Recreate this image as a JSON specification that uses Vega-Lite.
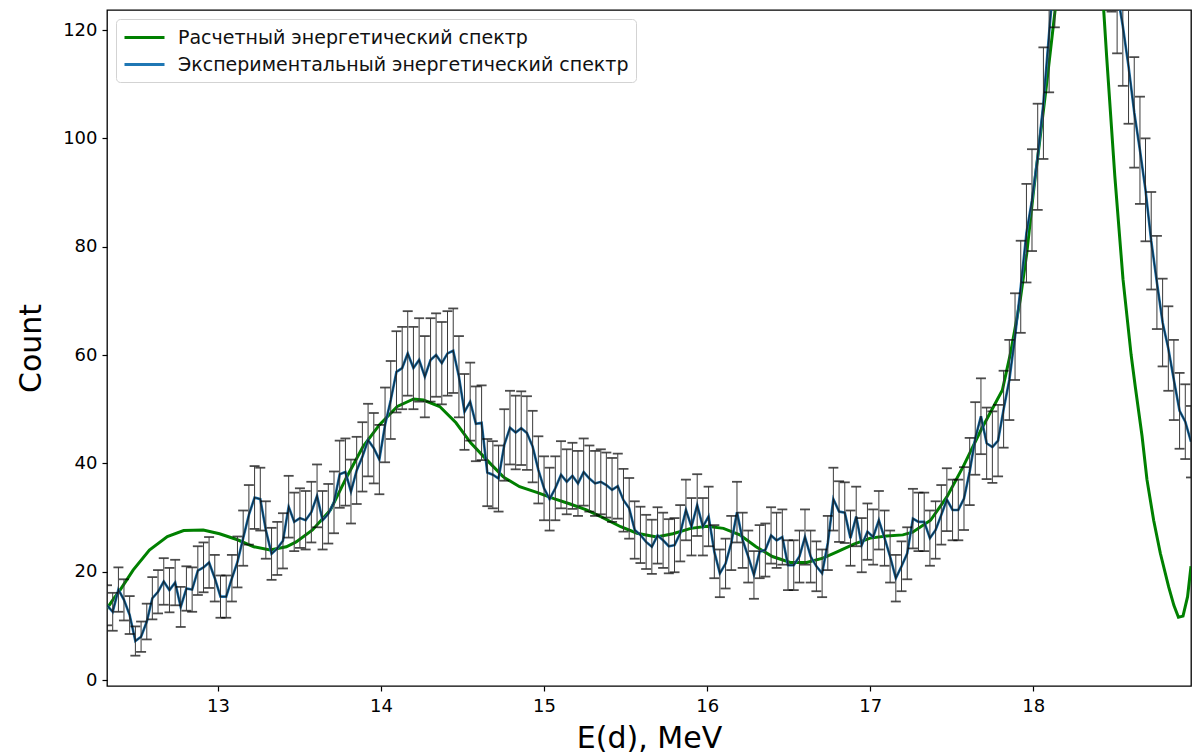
{
  "$schema": "https://vega.github.io/schema/vega-lite/v6.json",
  "width": 1084,
  "height": 676,
  "autosize": {"type": "none"},
  "padding": {"left": 107, "top": 10, "right": 2, "bottom": 70},
  "background": "white",
  "config": {
    "view": {"stroke": "black", "strokeWidth": 1.3},
    "font": "DejaVu Sans",
    "axis": {
      "labelFont": "DejaVu Sans", "labelFontSize": 18, "labelColor": "black",
      "titleFont": "DejaVu Sans", "titleFontSize": 30, "titleFontWeight": "normal", "titleColor": "black",
      "tickColor": "black", "tickSize": 5, "tickWidth": 1.2, "grid": false, "domain": false
    },
    "legend": {
      "orient": "top-left", "offset": 9, "padding": 7,
      "fillColor": "rgba(255,255,255,0.85)", "strokeColor": "#d3d3d3", "cornerRadius": 4,
      "labelFont": "DejaVu Sans", "labelFontSize": 19, "labelColor": "#111", "labelLimit": 800,
      "symbolType": "M-1,0L3,0", "symbolSize": 400, "symbolStrokeWidth": 3, "labelOffset": 32, "rowPadding": 5
    }
  },
  "datasets": {
    "exp": [
      {"e":12.320,"n":13.8,"err":3.7},{"e":12.355,"n":12.6,"err":3.5},{"e":12.390,"n":16.7,"err":4.1},{"e":12.424,"n":14.8,"err":3.8},
      {"e":12.459,"n":12.0,"err":3.5},{"e":12.494,"n":7.2,"err":2.7},{"e":12.529,"n":8.0,"err":2.8},{"e":12.564,"n":10.8,"err":3.3},
      {"e":12.598,"n":15.1,"err":3.9},{"e":12.633,"n":16.3,"err":4.0},{"e":12.668,"n":18.2,"err":4.3},{"e":12.703,"n":16.6,"err":4.1},
      {"e":12.738,"n":18.0,"err":4.2},{"e":12.772,"n":13.5,"err":3.7},{"e":12.807,"n":16.9,"err":4.1},{"e":12.842,"n":16.7,"err":4.1},
      {"e":12.877,"n":20.2,"err":4.5},{"e":12.912,"n":20.8,"err":4.6},{"e":12.946,"n":21.7,"err":4.7},{"e":12.981,"n":18.8,"err":4.3},
      {"e":13.016,"n":15.4,"err":3.9},{"e":13.051,"n":15.4,"err":3.9},{"e":13.086,"n":18.8,"err":4.3},{"e":13.120,"n":21.8,"err":4.7},
      {"e":13.155,"n":26.2,"err":5.1},{"e":13.190,"n":30.5,"err":5.5},{"e":13.225,"n":33.7,"err":5.8},{"e":13.260,"n":33.4,"err":5.8},
      {"e":13.294,"n":27.7,"err":5.3},{"e":13.329,"n":23.3,"err":4.8},{"e":13.364,"n":24.3,"err":4.9},{"e":13.399,"n":25.7,"err":5.1},
      {"e":13.434,"n":32.0,"err":5.7},{"e":13.468,"n":29.2,"err":5.4},{"e":13.503,"n":29.9,"err":5.5},{"e":13.538,"n":29.5,"err":5.4},
      {"e":13.573,"n":31.0,"err":5.6},{"e":13.608,"n":34.0,"err":5.8},{"e":13.642,"n":29.5,"err":5.4},{"e":13.677,"n":30.7,"err":5.5},
      {"e":13.712,"n":32.8,"err":5.7},{"e":13.747,"n":38.0,"err":6.2},{"e":13.782,"n":38.4,"err":6.2},{"e":13.816,"n":34.8,"err":5.9},
      {"e":13.851,"n":38.7,"err":6.2},{"e":13.886,"n":41.2,"err":6.4},{"e":13.921,"n":44.3,"err":6.7},{"e":13.956,"n":42.8,"err":6.5},
      {"e":13.990,"n":40.7,"err":6.4},{"e":14.025,"n":47.1,"err":6.9},{"e":14.060,"n":51.7,"err":7.2},{"e":14.095,"n":56.9,"err":7.5},
      {"e":14.130,"n":57.6,"err":7.6},{"e":14.164,"n":60.3,"err":7.8},{"e":14.199,"n":57.6,"err":7.6},{"e":14.234,"n":59.1,"err":7.7},
      {"e":14.269,"n":56.0,"err":7.5},{"e":14.304,"n":59.1,"err":7.7},{"e":14.338,"n":60.0,"err":7.7},{"e":14.373,"n":58.5,"err":7.6},
      {"e":14.408,"n":60.3,"err":7.8},{"e":14.443,"n":60.8,"err":7.8},{"e":14.478,"n":56.0,"err":7.5},{"e":14.512,"n":49.5,"err":7.0},
      {"e":14.547,"n":51.4,"err":7.2},{"e":14.582,"n":47.3,"err":6.9},{"e":14.617,"n":47.5,"err":6.9},{"e":14.652,"n":38.3,"err":6.2},
      {"e":14.686,"n":37.9,"err":6.2},{"e":14.721,"n":37.2,"err":6.1},{"e":14.756,"n":43.4,"err":6.6},{"e":14.791,"n":46.6,"err":6.8},
      {"e":14.826,"n":45.7,"err":6.8},{"e":14.860,"n":46.5,"err":6.8},{"e":14.895,"n":45.6,"err":6.8},{"e":14.930,"n":43.1,"err":6.6},
      {"e":14.965,"n":38.8,"err":6.2},{"e":15.000,"n":35.4,"err":5.9},{"e":15.034,"n":33.4,"err":5.8},{"e":15.069,"n":35.4,"err":5.9},
      {"e":15.104,"n":37.9,"err":6.2},{"e":15.139,"n":36.6,"err":6.0},{"e":15.174,"n":37.7,"err":6.1},{"e":15.208,"n":36.3,"err":6.0},
      {"e":15.243,"n":38.4,"err":6.2},{"e":15.278,"n":37.2,"err":6.1},{"e":15.313,"n":36.3,"err":6.0},{"e":15.348,"n":36.6,"err":6.0},
      {"e":15.382,"n":36.0,"err":6.0},{"e":15.417,"n":35.1,"err":5.9},{"e":15.452,"n":35.8,"err":6.0},{"e":15.487,"n":33.2,"err":5.8},
      {"e":15.522,"n":31.7,"err":5.6},{"e":15.556,"n":27.7,"err":5.3},{"e":15.591,"n":26.8,"err":5.2},{"e":15.626,"n":25.5,"err":5.0},
      {"e":15.661,"n":24.6,"err":5.0},{"e":15.696,"n":26.7,"err":5.2},{"e":15.730,"n":25.8,"err":5.1},{"e":15.765,"n":24.7,"err":5.0},
      {"e":15.800,"n":24.9,"err":5.0},{"e":15.835,"n":27.1,"err":5.2},{"e":15.870,"n":31.4,"err":5.6},{"e":15.904,"n":28.3,"err":5.3},
      {"e":15.939,"n":32.3,"err":5.7},{"e":15.974,"n":28.3,"err":5.3},{"e":16.009,"n":30.2,"err":5.5},{"e":16.044,"n":23.7,"err":4.9},
      {"e":16.078,"n":19.7,"err":4.4},{"e":16.113,"n":21.5,"err":4.6},{"e":16.148,"n":25.3,"err":5.0},{"e":16.183,"n":31.0,"err":5.6},
      {"e":16.218,"n":25.8,"err":5.1},{"e":16.252,"n":22.8,"err":4.8},{"e":16.287,"n":19.4,"err":4.4},{"e":16.322,"n":23.7,"err":4.9},
      {"e":16.357,"n":24.0,"err":4.9},{"e":16.392,"n":26.7,"err":5.2},{"e":16.426,"n":25.8,"err":5.1},{"e":16.461,"n":26.4,"err":5.1},
      {"e":16.496,"n":21.2,"err":4.6},{"e":16.531,"n":21.2,"err":4.6},{"e":16.566,"n":22.8,"err":4.8},{"e":16.600,"n":26.4,"err":5.1},
      {"e":16.635,"n":22.8,"err":4.8},{"e":16.670,"n":21.0,"err":4.6},{"e":16.705,"n":19.7,"err":4.4},{"e":16.740,"n":25.3,"err":5.0},
      {"e":16.774,"n":33.4,"err":5.8},{"e":16.809,"n":31.1,"err":5.6},{"e":16.844,"n":30.9,"err":5.6},{"e":16.879,"n":26.2,"err":5.1},
      {"e":16.914,"n":30.2,"err":5.5},{"e":16.948,"n":24.9,"err":5.0},{"e":16.983,"n":27.4,"err":5.2},{"e":17.018,"n":26.4,"err":5.1},
      {"e":17.053,"n":29.5,"err":5.4},{"e":17.088,"n":26.2,"err":5.1},{"e":17.122,"n":22.8,"err":4.8},{"e":17.157,"n":18.8,"err":4.3},
      {"e":17.192,"n":21.0,"err":4.6},{"e":17.227,"n":23.4,"err":4.8},{"e":17.262,"n":29.8,"err":5.5},{"e":17.296,"n":29.2,"err":5.4},
      {"e":17.331,"n":29.2,"err":5.4},{"e":17.366,"n":26.2,"err":5.1},{"e":17.401,"n":27.7,"err":5.3},{"e":17.436,"n":30.5,"err":5.5},
      {"e":17.470,"n":33.3,"err":5.8},{"e":17.505,"n":31.4,"err":5.6},{"e":17.540,"n":31.4,"err":5.6},{"e":17.575,"n":33.5,"err":5.8},
      {"e":17.610,"n":38.5,"err":6.2},{"e":17.644,"n":44.6,"err":6.7},{"e":17.679,"n":48.7,"err":7.0},{"e":17.714,"n":43.7,"err":6.6},
      {"e":17.749,"n":43.0,"err":6.6},{"e":17.784,"n":44.2,"err":6.6},{"e":17.818,"n":50.0,"err":7.1},{"e":17.853,"n":55.4,"err":7.4},
      {"e":17.888,"n":63.4,"err":8.0},{"e":17.923,"n":72.6,"err":8.5},{"e":17.958,"n":82.5,"err":9.1},{"e":17.992,"n":88.6,"err":9.4},
      {"e":18.027,"n":96.6,"err":9.8},{"e":18.062,"n":106.5,"err":10.3},{"e":18.097,"n":119.4,"err":10.9},{"e":18.132,"n":132,"err":11.5},
      {"e":18.166,"n":145,"err":12.0},{"e":18.201,"n":155,"err":12.4},{"e":18.236,"n":162,"err":12.7},{"e":18.271,"n":166,"err":12.9},
      {"e":18.306,"n":168,"err":13.0},{"e":18.340,"n":166,"err":12.9},{"e":18.375,"n":160,"err":12.6},{"e":18.410,"n":152,"err":12.3},
      {"e":18.445,"n":143,"err":12.0},{"e":18.480,"n":135,"err":11.6},{"e":18.514,"n":127,"err":11.3},{"e":18.549,"n":120.7,"err":11.0},
      {"e":18.584,"n":113.3,"err":10.6},{"e":18.619,"n":104.8,"err":10.2},{"e":18.654,"n":97.8,"err":9.9},{"e":18.688,"n":90.5,"err":9.5},
      {"e":18.723,"n":81.1,"err":9.0},{"e":18.758,"n":73.4,"err":8.6},{"e":18.793,"n":66.0,"err":8.1},{"e":18.828,"n":61.2,"err":7.8},
      {"e":18.862,"n":55.4,"err":7.4},{"e":18.897,"n":49.7,"err":7.0},{"e":18.932,"n":47.7,"err":6.9},{"e":18.967,"n":44.0,"err":6.6}
    ],
    "calc": [
      {"e":12.320,"n":13.2},{"e":12.36,"n":15.0},{"e":12.40,"n":16.6},{"e":12.48,"n":20.3},{"e":12.58,"n":24.0},{"e":12.69,"n":26.5},
      {"e":12.79,"n":27.6},{"e":12.91,"n":27.7},{"e":13.01,"n":27.0},{"e":13.12,"n":25.9},{"e":13.22,"n":24.6},{"e":13.32,"n":24.0},
      {"e":13.42,"n":24.6},{"e":13.48,"n":25.5},{"e":13.58,"n":27.7},{"e":13.69,"n":31.4},{"e":13.79,"n":37.5},{"e":13.89,"n":43.1},
      {"e":13.99,"n":47.1},{"e":14.10,"n":50.5},{"e":14.20,"n":51.9},{"e":14.26,"n":51.7},{"e":14.36,"n":50.5},{"e":14.46,"n":47.5},
      {"e":14.55,"n":43.8},{"e":14.65,"n":40.6},{"e":14.75,"n":37.5},{"e":14.85,"n":35.7},{"e":14.96,"n":34.6},{"e":15.06,"n":33.5},
      {"e":15.16,"n":32.5},{"e":15.26,"n":31.4},{"e":15.36,"n":30.0},{"e":15.47,"n":28.3},{"e":15.57,"n":27.1},{"e":15.69,"n":26.4},
      {"e":15.79,"n":27.0},{"e":15.90,"n":28.0},{"e":16.00,"n":28.4},{"e":16.10,"n":28.0},{"e":16.20,"n":26.8},{"e":16.30,"n":24.6},
      {"e":16.40,"n":22.8},{"e":16.51,"n":21.7},{"e":16.61,"n":21.7},{"e":16.71,"n":22.5},{"e":16.80,"n":23.7},{"e":16.90,"n":25.1},
      {"e":17.00,"n":26.2},{"e":17.10,"n":26.6},{"e":17.20,"n":26.8},{"e":17.26,"n":27.3},{"e":17.37,"n":29.5},{"e":17.47,"n":33.8},
      {"e":17.57,"n":39.4},{"e":17.68,"n":46.2},{"e":17.81,"n":53.5},{"e":17.86,"n":60.3},{"e":17.92,"n":70.2},{"e":17.96,"n":78.8},
      {"e":18.00,"n":89.9},{"e":18.04,"n":99.7},{"e":18.08,"n":109.6},{"e":18.135,"n":124},{"e":18.18,"n":138},{"e":18.23,"n":150},
      {"e":18.28,"n":155},{"e":18.33,"n":152},{"e":18.38,"n":142},{"e":18.431,"n":124},{"e":18.45,"n":115},{"e":18.50,"n":93},
      {"e":18.55,"n":74},{"e":18.60,"n":60},{"e":18.626,"n":54},{"e":18.667,"n":45},{"e":18.697,"n":37},{"e":18.738,"n":29.5},
      {"e":18.779,"n":23.4},{"e":18.830,"n":17.2},{"e":18.862,"n":13.8},{"e":18.890,"n":11.6},{"e":18.918,"n":11.8},{"e":18.946,"n":15.4},
      {"e":18.967,"n":21.0}
    ]
  },
  "encoding": {
    "x": {"field": "e", "type": "quantitative", "scale": {"domain": [12.32, 18.967], "nice": false, "zero": false},
          "axis": {"values": [13, 14, 15, 16, 17, 18], "title": "E(d), MeV", "labelPadding": 6, "titlePadding": 8}},
    "y": {"field": "n", "type": "quantitative", "scale": {"domain": [-1.1, 123.7], "nice": false, "zero": false},
          "axis": {"values": [0, 20, 40, 60, 80, 100, 120], "title": "Count", "labelPadding": 5, "titlePadding": 16}}
  },
  "layer": [
    {
      "data": {"name": "calc"},
      "mark": {"type": "line", "strokeWidth": 3, "clip": true},
      "encoding": {
        "color": {"datum": "Расчетный энергетический спектр", "type": "nominal",
                  "scale": {"domain": ["Расчетный энергетический спектр", "Экспериментальный энергетический спектр"], "range": ["#008000", "#1f77b4"]},
                  "legend": {"title": null}}
      }
    },
    {
      "data": {"name": "exp"},
      "mark": {"type": "line", "strokeWidth": 2.6, "clip": true},
      "encoding": {
        "color": {"datum": "Экспериментальный энергетический спектр", "type": "nominal"}
      }
    },
    {
      "data": {"name": "exp"},
      "mark": {"type": "errorbar", "clip": true, "color": "#3a3a3a", "thickness": 1, "ticks": {"size": 10, "thickness": 1.8, "color": "black"}},
      "encoding": {"yError": {"field": "err"}}
    },
    {
      "data": {"name": "exp"},
      "mark": {"type": "line", "strokeWidth": 1.4, "color": "black", "opacity": 0.55, "clip": true},
      "encoding": {}
    }
  ]
}
